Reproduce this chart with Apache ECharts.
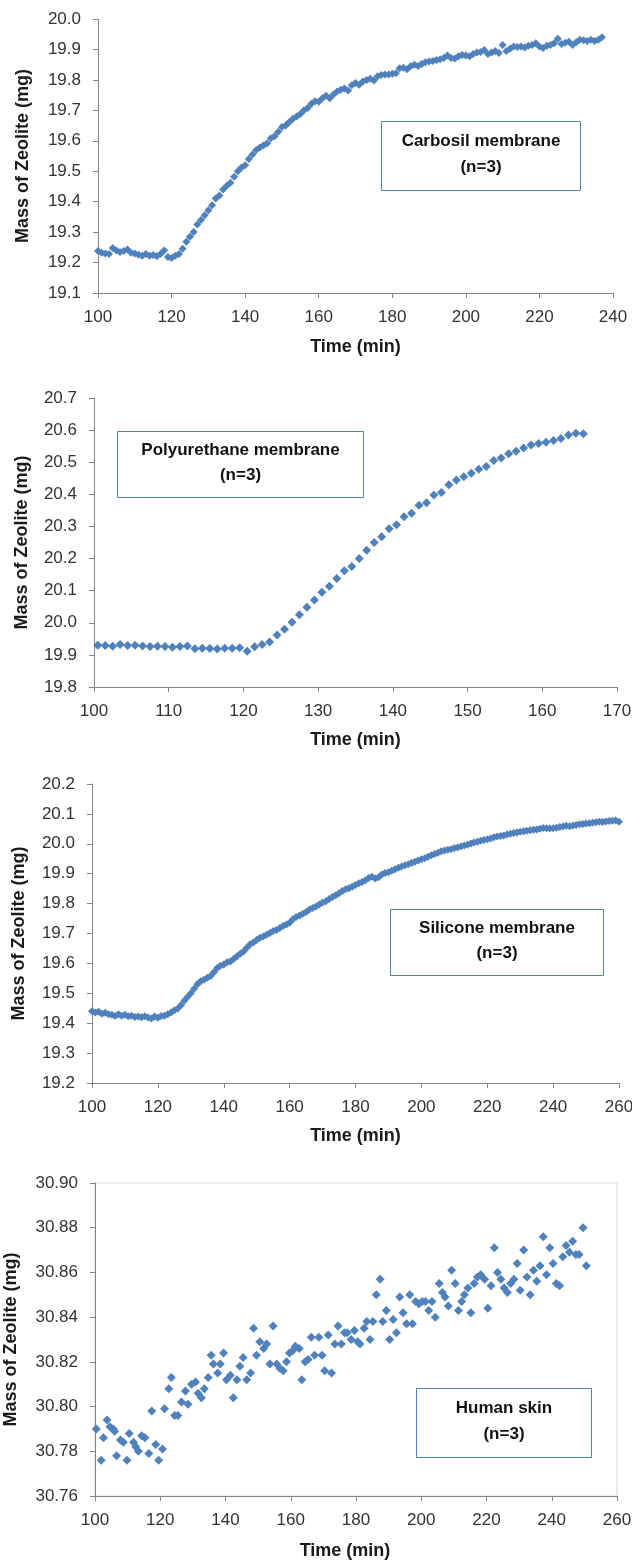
<!DOCTYPE html>
<html>
<head>
<meta charset="utf-8">
<script src="https://cdn.jsdelivr.net/npm/echarts@6/dist/echarts.min.js"></script>
<style>
html,body{margin:0;padding:0;background:#fff;}
#chart{width:632px;height:1561px;}
</style>
</head>
<body>
<div id="chart"></div>
<script>
// ---------- DATA ----------
const yTitle = 'Mass of Zeolite (mg)';
const xTitle = 'Time (min)';

// Carbosil membrane: one reading per minute starting at 100 min
const carbosilStart = 100, carbosilStep = 1;
const carbosilMass = [
19.238,19.232,19.230,19.228,19.248,19.240,19.235,19.238,19.243,19.232,
19.230,19.226,19.222,19.228,19.222,19.225,19.221,19.228,19.240,19.218,
19.215,19.222,19.228,19.245,19.268,19.285,19.300,19.325,19.340,19.355,
19.372,19.388,19.410,19.420,19.440,19.452,19.462,19.482,19.500,19.512,
19.520,19.540,19.555,19.570,19.578,19.585,19.592,19.608,19.615,19.630,
19.645,19.650,19.662,19.672,19.680,19.688,19.700,19.708,19.722,19.730,
19.728,19.740,19.748,19.740,19.752,19.762,19.768,19.772,19.765,19.782,
19.790,19.784,19.795,19.800,19.804,19.798,19.812,19.816,19.818,19.818,
19.820,19.822,19.838,19.840,19.835,19.845,19.850,19.846,19.852,19.858,
19.860,19.862,19.865,19.868,19.872,19.880,19.872,19.870,19.878,19.882,
19.880,19.878,19.885,19.890,19.892,19.898,19.885,19.890,19.895,19.888,
19.915,19.895,19.902,19.910,19.908,19.910,19.906,19.912,19.915,19.920,
19.910,19.905,19.912,19.915,19.920,19.935,19.918,19.922,19.925,19.915,
19.924,19.932,19.930,19.928,19.932,19.928,19.932,19.940
];

// Polyurethane membrane: one reading per minute starting at 100.5 min
const polyStart = 100.5, polyStep = 1;
const polyMass = [
19.930,19.929,19.927,19.932,19.929,19.930,19.928,19.926,19.927,19.926,
19.924,19.926,19.928,19.919,19.921,19.920,19.918,19.921,19.921,19.922,
19.911,19.925,19.932,19.940,19.962,19.980,20.002,20.025,20.048,20.071,
20.095,20.114,20.138,20.162,20.175,20.200,20.226,20.250,20.268,20.293,
20.305,20.330,20.341,20.366,20.374,20.398,20.406,20.430,20.445,20.455,
20.466,20.478,20.487,20.505,20.513,20.526,20.534,20.544,20.554,20.558,
20.562,20.568,20.574,20.585,20.590,20.589
];

// Silicone membrane: one reading per minute starting at 100 min
const siliconeStart = 100, siliconeStep = 1;
const siliconeMass = [
19.440,19.436,19.438,19.432,19.435,19.430,19.428,19.424,19.430,19.425,
19.428,19.423,19.425,19.421,19.422,19.420,19.423,19.419,19.416,19.422,
19.418,19.424,19.425,19.430,19.436,19.443,19.448,19.460,19.475,19.488,
19.500,19.515,19.530,19.540,19.545,19.552,19.558,19.570,19.585,19.592,
19.596,19.604,19.606,19.615,19.624,19.632,19.640,19.652,19.664,19.670,
19.678,19.686,19.690,19.696,19.702,19.708,19.712,19.718,19.725,19.730,
19.736,19.748,19.755,19.760,19.766,19.772,19.780,19.785,19.790,19.797,
19.804,19.808,19.815,19.822,19.828,19.835,19.842,19.848,19.851,19.856,
19.862,19.868,19.872,19.878,19.886,19.890,19.884,19.888,19.897,19.902,
19.905,19.910,19.915,19.920,19.924,19.928,19.932,19.936,19.940,19.944,
19.948,19.952,19.957,19.962,19.966,19.970,19.975,19.978,19.980,19.982,
19.986,19.988,19.991,19.994,19.997,20.001,20.004,20.007,20.010,20.013,
20.015,20.018,20.022,20.024,20.026,20.028,20.031,20.034,20.036,20.038,
20.040,20.042,20.044,20.045,20.047,20.048,20.050,20.053,20.052,20.051,
20.052,20.054,20.056,20.058,20.060,20.059,20.061,20.063,20.065,20.066,
20.068,20.069,20.070,20.072,20.074,20.073,20.075,20.076,20.077,20.078,
20.074
];

// Human skin (scatter)
const skinTime = [
100.4,101.9,102.6,103.7,104.6,105.6,106.0,106.6,107.8,108.7,
109.8,110.5,111.8,112.5,113.3,114.3,115.3,116.5,117.4,118.6,
119.5,120.7,121.3,122.6,123.4,124.4,125.4,126.5,127.7,128.5,
129.6,130.8,131.6,132.6,133.5,134.7,135.6,136.3,137.6,138.4,
139.4,140.3,141.5,142.4,143.5,144.4,145.4,146.5,147.7,148.6,
149.5,150.5,151.7,152.6,153.6,154.6,155.7,156.7,157.7,158.7,
159.6,160.6,161.4,162.6,163.4,164.4,165.3,166.3,167.3,168.6,
169.6,170.4,171.5,172.5,173.5,174.5,175.5,176.5,177.3,178.5,
179.5,180.5,181.2,182.5,183.3,184.3,185.2,186.2,187.4,188.2,
189.3,190.3,191.4,192.4,193.4,194.4,195.5,196.5,197.3,198.3,
199.3,200.3,201.3,202.3,203.3,204.3,205.5,206.5,207.3,208.3,
209.3,210.4,211.4,212.4,213.2,214.3,215.2,216.2,217.2,218.2,
219.4,220.4,221.4,222.4,223.4,224.4,225.4,226.4,227.4,228.4,
229.4,230.3,231.4,232.4,233.4,234.4,235.4,236.4,237.4,238.4,
239.4,240.4,241.4,242.4,243.4,244.4,245.4,246.4,247.4,248.4,
249.6,250.6
];
const skinMass = [
30.790,30.776,30.786,30.794,30.791,30.790,30.789,30.778,30.785,30.784,
30.776,30.788,30.784,30.782,30.780,30.787,30.786,30.779,30.798,30.783,
30.776,30.781,30.799,30.808,30.813,30.796,30.796,30.802,30.807,30.801,
30.810,30.811,30.806,30.804,30.808,30.813,30.823,30.819,30.815,30.819,
30.824,30.812,30.814,30.804,30.812,30.818,30.822,30.812,30.815,30.835,
30.823,30.829,30.826,30.828,30.819,30.836,30.819,30.817,30.816,30.820,
30.824,30.825,30.827,30.826,30.812,30.820,30.821,30.831,30.823,30.831,
30.823,30.816,30.832,30.815,30.828,30.836,30.828,30.833,30.833,30.830,
30.834,30.829,30.828,30.835,30.838,30.830,30.838,30.850,30.857,30.838,
30.843,30.830,30.839,30.833,30.849,30.842,30.837,30.850,30.837,30.847,
30.846,30.847,30.847,30.843,30.847,30.840,30.855,30.851,30.849,30.845,
30.861,30.855,30.843,30.847,30.850,30.853,30.842,30.855,30.858,30.859,
30.857,30.844,30.854,30.871,30.860,30.857,30.853,30.851,30.855,30.857,
30.864,30.852,30.870,30.858,30.850,30.861,30.856,30.863,30.876,30.859,
30.871,30.864,30.855,30.854,30.867,30.872,30.869,30.874,30.868,30.868,
30.880,30.863
];

// Axis settings (ticks)
const axes = [
  {xMin:100, xMax:240, xInt:20, yMin:19.1, yMax:20.0, yInt:0.1, yDec:1},
  {xMin:100, xMax:170, xInt:10, yMin:19.8, yMax:20.7, yInt:0.1, yDec:1},
  {xMin:100, xMax:260, xInt:20, yMin:19.2, yMax:20.2, yInt:0.1, yDec:1},
  {xMin:100, xMax:260, xInt:20, yMin:30.76, yMax:30.90, yInt:0.02, yDec:2}
];
const boxTitles = ['Carbosil membrane', 'Polyurethane membrane', 'Silicone membrane', 'Human skin'];
const boxSub = '(n=3)';

// ---------- BUILD ----------
function regular(start, step, vals){ return vals.map((v,i)=>[start + i*step, v]); }
const seriesData = [
  regular(carbosilStart, carbosilStep, carbosilMass),
  regular(polyStart, polyStep, polyMass),
  regular(siliconeStart, siliconeStep, siliconeMass),
  skinTime.map((t,i)=>[t, skinMass[i]])
];

const FONT = '"Liberation Sans", Arial, sans-serif';
const BLUE = '#4F81BD';
const AXISC = '#868686';

const grids = [
  {left:98, top:19, width:515, height:274, outerBoundsMode:'none', containLabel:false},
  {left:94, top:398, width:523, height:289, outerBoundsMode:'none', containLabel:false},
  {left:92, top:784, width:527, height:299, outerBoundsMode:'none', containLabel:false},
  {left:95, top:1183, width:522, height:313, outerBoundsMode:'none', containLabel:false, show:true, borderColor:'#d9d9d9', borderWidth:1}
];
const yNameGap = [66, 63, 64, 75];
const xNameGap = [45, 44, 44, 46];
const symSize = [8, 9, 8, 9];

const xAxis = axes.map((a,i)=>({
  type:'value', gridIndex:i, min:a.xMin, max:a.xMax, interval:a.xInt,
  name:xTitle, nameLocation:'middle', nameGap:xNameGap[i],
  nameTextStyle:{fontFamily:FONT, fontWeight:'bold', fontSize:18, color:'#1a1a1a', padding: i===3 ? [0,22,0,0] : 0},
  axisLine:{show:true, onZero:false, lineStyle:{color:AXISC, width:1}},
  axisTick:{show:true, inside:false, length:5, lineStyle:{color:AXISC}},
  axisLabel:{fontFamily:FONT, fontSize:17, color:'#333', margin:16},
  splitLine:{show:false}
}));
const yAxis = axes.map((a,i)=>({
  type:'value', gridIndex:i, min:a.yMin, max:a.yMax, interval:a.yInt,
  name:yTitle, nameLocation:'middle', nameGap:yNameGap[i], nameRotate:90,
  nameTextStyle:{fontFamily:FONT, fontWeight:'bold', fontSize:18, color:'#1a1a1a'},
  axisLine:{show:true, onZero:false, lineStyle:{color:AXISC, width:1}},
  axisTick:{show:true, inside:false, length:5, lineStyle:{color:AXISC}},
  axisLabel:{fontFamily:FONT, fontSize:17, color:'#333', margin:17, formatter:v=>v.toFixed(a.yDec)},
  splitLine:{show:false}
}));
const series = seriesData.map((d,i)=>({
  type:'scatter', xAxisIndex:i, yAxisIndex:i, data:d,
  symbol:'diamond', symbolSize:symSize[i],
  itemStyle:{color:BLUE, opacity:1},
  silent:true, animation:false
}));

const boxes = [
  {x:381, y:121, w:199, h:69},
  {x:117, y:431, w:246, h:66},
  {x:390, y:909, w:213, h:66},
  {x:416, y:1388, w:175, h:69}
];
const graphic = boxes.map((b,i)=>({
  type:'group', left:b.x, top:b.y,
  children:[
    {type:'rect', shape:{x:0, y:0, width:b.w, height:b.h}, style:{fill:'#fff', stroke:BLUE, lineWidth:1}},
    {type:'text', x:b.w/2, y:b.h*0.28, style:{text:boxTitles[i], font:'bold 17px '+FONT, fill:'#111', textAlign:'center', textVerticalAlign:'middle'}},
    {type:'text', x:b.w/2, y:b.h*0.67, style:{text:boxSub, font:'bold 17px '+FONT, fill:'#111', textAlign:'center', textVerticalAlign:'middle'}}
  ]
}));

const chart = echarts.init(document.getElementById('chart'), null, {renderer:'canvas'});
chart.setOption({
  animation:false,
  backgroundColor:'#fff',
  grid:grids, xAxis, yAxis, series, graphic
});
</script>
</body>
</html>
